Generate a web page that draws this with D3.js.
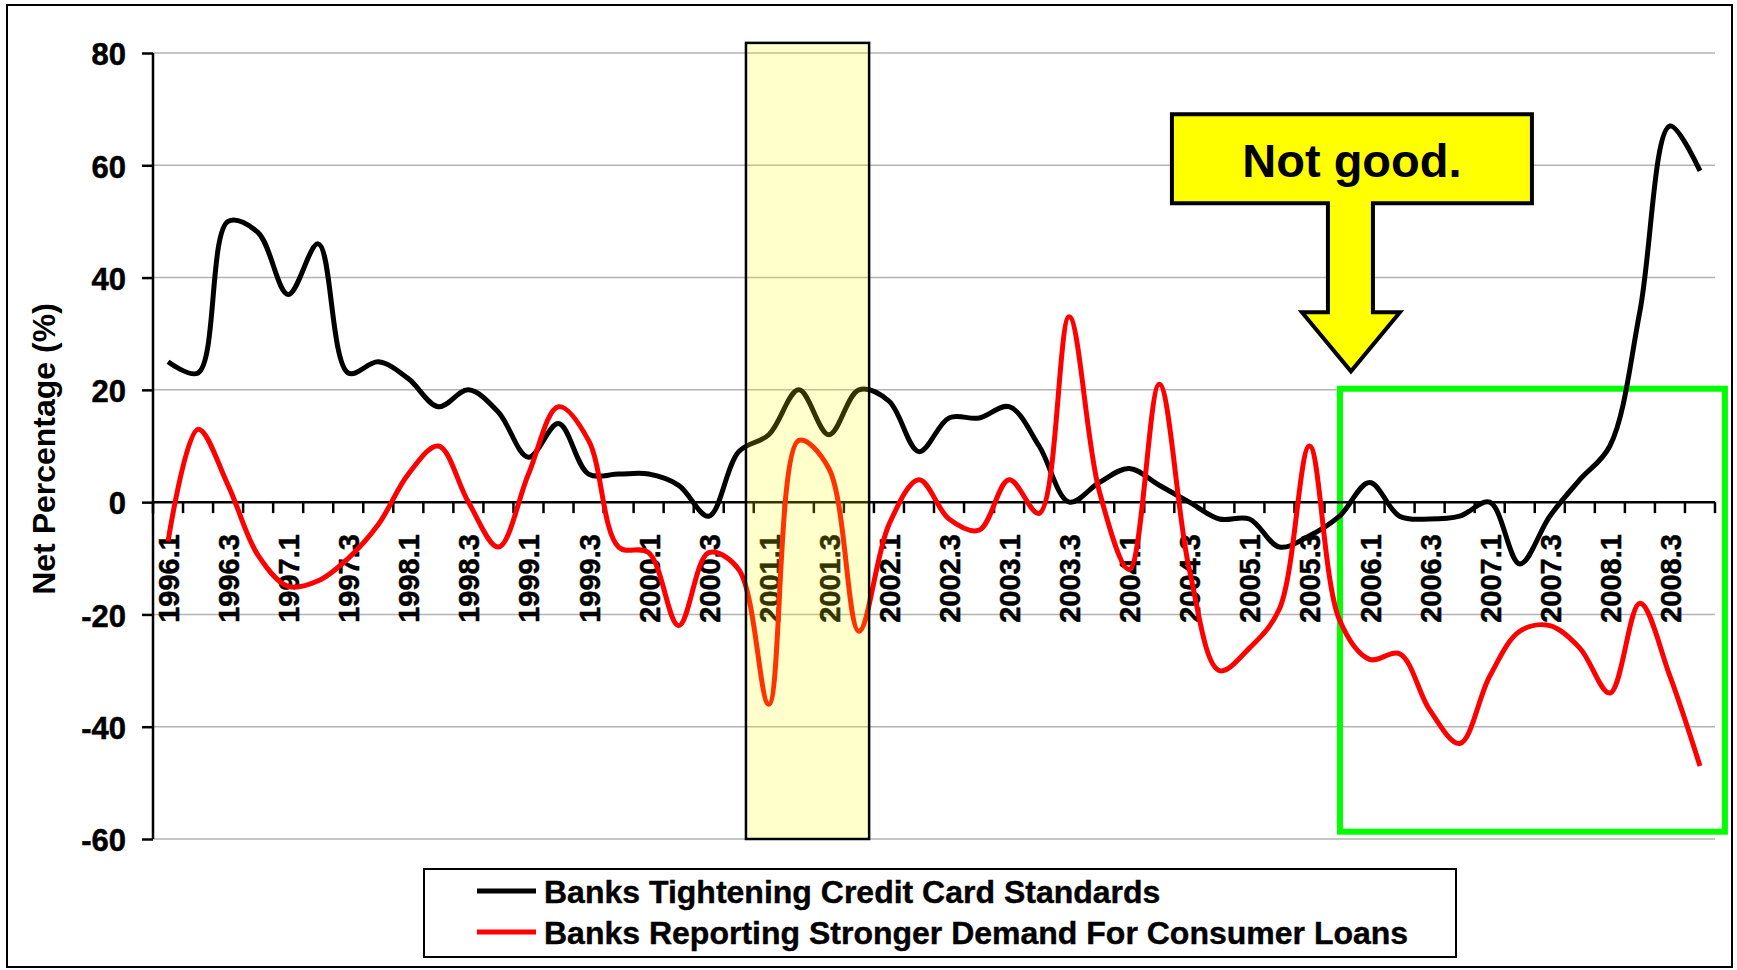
<!DOCTYPE html>
<html>
<head>
<meta charset="utf-8">
<script src="https://cdn.jsdelivr.net/npm/d3@7"></script>
<style>
  body { margin: 0; background: #fff; }
  svg text { font-family: "Liberation Sans", Arial, sans-serif; font-weight: bold; fill: #000; }
</style>
</head>
<body>
<div id="chart"></div>
<script>
// quarterly survey results, 1996.1 - 2008.4
var years = d3.range(1996, 2009);
var quarters = years.flatMap(function(yr) { return [1, 2, 3, 4].map(function(q) { return yr + "." + q; }); });

var tightening = [
   25,  23,  50,  48,    // 1996
   37,  46,  23,  25,    // 1997
   22,  17,  20,  16,    // 1998
    8,  14,   5,   5,    // 1999
    5,   3, -2.5,  9,    // 2000
   12,  20,  12,  20,    // 2001
   18,   9,  15,  15,    // 2002
   17,  10,   0, 3.5,    // 2003
    6,   3,   0,  -3,    // 2004
   -3,  -8,  -6, -2.5,   // 2005
  3.5, -2.5, -3, -2.5,   // 2006
    0, -11, -2.5,  4,    // 2007
   10,  34,  67,  59     // 2008
];

var demand = [
   -7,  13,   3, -9.5,
  -15, -14, -10,  -4,
    5,  10,   0,  -8,
    5,  17,  11,  -8,
   -9, -22,  -9, -12,
  -36,  11,   6, -23,
   -4,   4,  -3,  -5,
    4,  -2,  33,   2,
  -12,  21, -12, -30,
  -26, -19,  10, -21,
  -28, -27, -37, -43,
  -31, -23, -22, -26,
  -34, -18, -31, -47
];

var yTicks = [-60, -40, -20, 0, 20, 40, 60, 80];
var seriesNames = ["Banks Tightening Credit Card Standards",
                   "Banks Reporting Stronger Demand For Consumer Loans"];
var seriesColors = ["#000000", "#ff0000"];

var W = 1737, H = 970;
var plot = {left: 153, right: 1715, top: 53, bottom: 839};

var svg = d3.select("#chart").append("svg")
    .attr("width", W).attr("height", H);

// outer frame
svg.append("rect")
    .attr("x", 7).attr("y", 5).attr("width", 1725).attr("height", 962)
    .attr("fill", "#fff").attr("stroke", "#000").attr("stroke-width", 2);

var x = d3.scalePoint().domain(quarters).range([plot.left, plot.right]).padding(0.5);
var y = d3.scaleLinear().domain([-60, 80]).range([plot.bottom, plot.top]);
var step = x.step();

// gridlines
svg.append("g").selectAll("line")
    .data(yTicks.filter(function(d) { return d !== 0; }))
    .enter().append("line")
    .attr("x1", plot.left).attr("x2", plot.right)
    .attr("y1", function(d) { return y(d); }).attr("y2", function(d) { return y(d); })
    .attr("stroke", "#b3b3b3").attr("stroke-width", 1.5);

// green box round the recent period (under the lines)
var gx0 = x("2006.1") - 0.985 * step, gx1 = x("2008.4") + 0.83 * step;
svg.append("rect")
    .attr("x", gx0).attr("y", y(20.2))
    .attr("width", gx1 - gx0).attr("height", y(-58.7) - y(20.2))
    .attr("fill", "none").attr("stroke", "#00ff00").attr("stroke-width", 6);

// y axis (plain hyphen for negatives, as in the original)
var yAxis = svg.append("g")
    .attr("transform", "translate(" + plot.left + ",0)")
    .call(d3.axisLeft(y).tickValues(yTicks).tickSize(11).tickPadding(16)
        .tickFormat(function(d) { return String(d); }));
yAxis.select(".domain").attr("stroke", "#000").attr("stroke-width", 2.5).attr("d", "M0," + plot.bottom + "V" + plot.top);
yAxis.selectAll(".tick line").attr("stroke", "#000").attr("stroke-width", 2.5);
yAxis.selectAll("text").style("font-size", "31px").attr("dy", "0.38em")
    .attr("stroke", "#000").attr("stroke-width", 0.5);

// x axis at zero
var xAxis = svg.append("g")
    .attr("transform", "translate(0," + y(0) + ")")
    .call(d3.axisBottom(x)
        .tickValues(quarters.filter(function(d, i) { return i % 2 === 0; }))
        .tickSize(0));
xAxis.select(".domain").attr("stroke", "#000").attr("stroke-width", 2.5)
    .attr("d", "M" + plot.left + ",0H" + plot.right);
xAxis.selectAll("text")
    .style("font-size", "29px")
    .attr("text-anchor", "end")
    .attr("transform", "rotate(-90)")
    .attr("x", -32).attr("y", 0).attr("dy", "0.36em")
    .attr("stroke", "#000").attr("stroke-width", 0.5);

// tick marks sit between categories
svg.append("g").selectAll("line")
    .data(d3.range(quarters.length + 1))
    .enter().append("line")
    .attr("x1", function(i) { return plot.left + i * step; })
    .attr("x2", function(i) { return plot.left + i * step; })
    .attr("y1", y(0)).attr("y2", y(0) + 11)
    .attr("stroke", "#000").attr("stroke-width", 2.5);

// y title
svg.append("text")
    .attr("transform", "translate(44," + ((plot.top + plot.bottom) / 2 + 3) + ") rotate(-90)")
    .attr("text-anchor", "middle").attr("dy", "0.35em")
    .style("font-size", "32px")
    .text("Net Percentage (%)");

// the two series
var line = d3.line()
    .x(function(d, i) { return x(quarters[i]); })
    .y(function(d) { return y(d); })
    .curve(d3.curveCatmullRom.alpha(0.5));

[tightening, demand].forEach(function(s, k) {
    svg.append("path")
        .datum(s)
        .attr("d", line)
        .attr("fill", "none")
        .attr("stroke", seriesColors[k])
        .attr("stroke-width", 5)
        .attr("stroke-linejoin", "round");
});

// 2001 recession shading, drawn over the lines
var rx0 = x("2001.1") - 0.76 * step, rx1 = x("2001.4") + 0.34 * step;
svg.append("rect")
    .attr("x", rx0).attr("y", y(81.8))
    .attr("width", rx1 - rx0).attr("height", y(-60) - y(81.8))
    .attr("fill", "#ffff00").attr("fill-opacity", 0.2)
    .attr("stroke", "#000").attr("stroke-width", 2.5);

// "Not good." callout arrow
var tipX = x("2005.4") + 0.38 * step, tipY = y(23.3);
var cw = 360, bh = 89, boxTop = tipY - 257, boxLeft = tipX - 179;
var stemTop = boxTop + bh, headTop = tipY - 59;
var callout = [
    [boxLeft, boxTop], [boxLeft + cw, boxTop], [boxLeft + cw, stemTop],
    [tipX + 22, stemTop], [tipX + 22, headTop], [tipX + 49, headTop],
    [tipX, tipY],
    [tipX - 49, headTop], [tipX - 23, headTop], [tipX - 23, stemTop],
    [boxLeft, stemTop]
];
svg.append("path")
    .attr("d", d3.line()(callout) + "Z")
    .attr("fill", "#ffff00").attr("stroke", "#000").attr("stroke-width", 4)
    .attr("stroke-linejoin", "miter");
svg.append("text")
    .attr("x", boxLeft + cw / 2).attr("y", boxTop + 63)
    .attr("text-anchor", "middle")
    .style("font-size", "47px")
    .text("Not good.");

// legend
var legend = svg.append("g");
legend.append("rect")
    .attr("x", 424).attr("y", 869).attr("width", 1032).attr("height", 88)
    .attr("fill", "#fff").attr("stroke", "#000").attr("stroke-width", 2);
var rows = legend.selectAll("g.row").data(seriesNames).enter().append("g")
    .attr("transform", function(d, i) { return "translate(0," + (891 + i * 41) + ")"; });
rows.append("line")
    .attr("x1", 477).attr("x2", 536).attr("y1", 0).attr("y2", 0)
    .attr("stroke", function(d, i) { return seriesColors[i]; })
    .attr("stroke-width", 5);
rows.append("text")
    .attr("x", 544).attr("dy", "0.36em")
    .style("font-size", "32px")
    .attr("stroke", "#000").attr("stroke-width", 0.4)
    .text(function(d) { return d; });
</script>
</body>
</html>
